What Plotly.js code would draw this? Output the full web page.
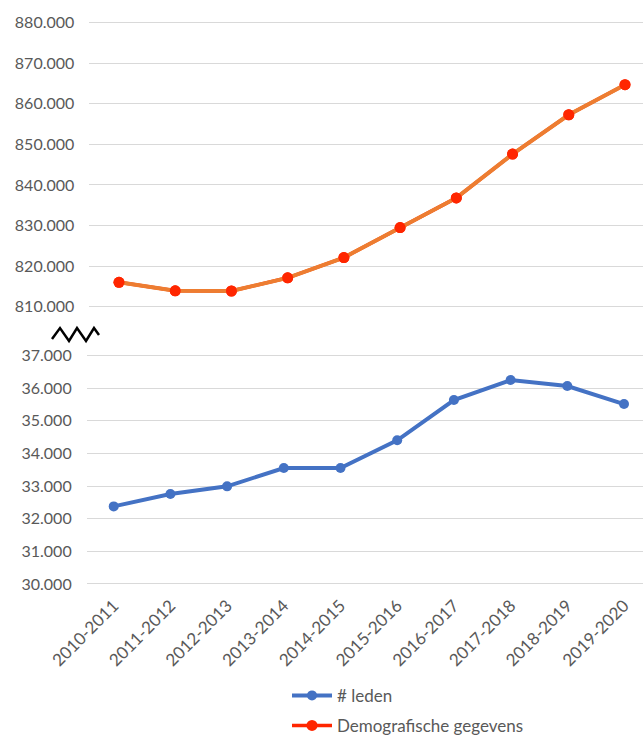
<!DOCTYPE html>
<html>
<head>
<meta charset="utf-8">
<script src="https://cdn.plot.ly/plotly-3.0.1.min.js"></script>
<style>html,body{margin:0;padding:0;background:#fff;}#chart{width:643px;height:744px;}</style>
</head>
<body>
<div id="chart"></div>
<script>
// ---- data ----
const seasons = ["2010-2011","2011-2012","2012-2013","2013-2014","2014-2015","2015-2016","2016-2017","2017-2018","2018-2019","2019-2020"];
const leden = [32376, 32758, 32990, 33552, 33552, 34400, 35633, 36245, 36061, 35511];
const demografie = [816000, 813900, 813850, 817100, 822100, 829500, 836800, 847600, 857300, 864700];
const topTicks = [810000, 820000, 830000, 840000, 850000, 860000, 870000, 880000];
const bottomTicks = [30000, 31000, 32000, 33000, 34000, 35000, 36000, 37000];
const seriesNames = ["# leden", "Demografische gegevens"];

const W = 643, H = 744;
const px = v => v / W;
const py = v => 1 - v / H;
const FONT = "Lato, 'Open Sans', sans-serif";
const GREY = "#595959";

const traces = [
  {
    x: seasons, y: leden, xaxis: "x", yaxis: "y",
    type: "scatter", mode: "lines+markers", name: seriesNames[0],
    legendgroup: "a",
    line: {color: "#4472C4", width: 4},
    marker: {color: "#4472C4", size: 10}
  },
  {
    x: seasons, y: demografie, xaxis: "x2", yaxis: "y2",
    type: "scatter", mode: "lines+markers", name: seriesNames[1],
    legendgroup: "b",
    line: {color: "#FF2600", width: 3.5},
    marker: {color: "#FF2600", size: 11}
  },
  {
    x: seasons, y: demografie, xaxis: "x2", yaxis: "y2",
    type: "scatter", mode: "lines+markers", name: seriesNames[1],
    showlegend: false, hoverinfo: "skip",
    line: {color: "#ED7D31", width: 4},
    marker: {color: "#FF2600", size: 11}
  }
];

// zigzag axis-break symbol (decoration)
const zz = [[52,344],[60,333],[69,346],[77,333],[86,346],[94,333],[99,340]];
const zzPath = "M" + zz.map(p => px(p[0]) + "," + py(p[1])).join(" L");

const layout = {
  width: W, height: H,
  margin: {l: 0, r: 0, t: 0, b: 0, pad: 0},
  paper_bgcolor: "#fff", plot_bgcolor: "#fff",
  separators: ",.",
  font: {family: FONT, size: 16, color: GREY},
  showlegend: true,
  legend: {
    x: px(287), y: py(688), xanchor: "left", yanchor: "top",
    font: {family: FONT, size: 17, color: GREY},
    bgcolor: "rgba(0,0,0,0)", borderwidth: 0,
    traceorder: "grouped", tracegroupgap: 5,
    itemwidth: 40
  },
  xaxis: {
    domain: [px(86.7), 1], anchor: "y",
    type: "category", range: [-0.4765, 9.335],
    showgrid: false, zeroline: false, showline: false, ticks: "",
    tickangle: -45, ticklabelstandoff: 6,
    tickfont: {family: FONT, size: 17, color: GREY},
    automargin: false
  },
  yaxis: {
    domain: [py(594.4), py(350.8)], anchor: "x",
    range: [29950, 37300],
    tickvals: bottomTicks, tickformat: ",d",
    showgrid: true, gridcolor: "#D9D9D9", gridwidth: 1,
    zeroline: false, showline: false, ticks: "",
    ticklabelstandoff: 14,
    tickfont: {family: FONT, size: 16, color: GREY},
    automargin: false
  },
  xaxis2: {
    domain: [px(89.3), 1], anchor: "y2",
    type: "category", range: [-0.528, 9.32],
    showgrid: false, zeroline: false, showline: false, ticks: "",
    showticklabels: false, automargin: false
  },
  yaxis2: {
    domain: [py(327.7), py(10.65)], anchor: "x2",
    range: [806000, 883000],
    tickvals: topTicks, tickformat: ",d",
    showgrid: true, gridcolor: "#D9D9D9", gridwidth: 1,
    zeroline: false, showline: false, ticks: "",
    ticklabelstandoff: 14,
    tickfont: {family: FONT, size: 16, color: GREY},
    automargin: false
  },
  shapes: [
    {type: "path", xref: "paper", yref: "paper", path: zzPath,
     line: {color: "#000", width: 2.5}}
  ]
};

Plotly.newPlot("chart", traces, layout, {staticPlot: true, displayModeBar: false});
</script>
</body>
</html>
